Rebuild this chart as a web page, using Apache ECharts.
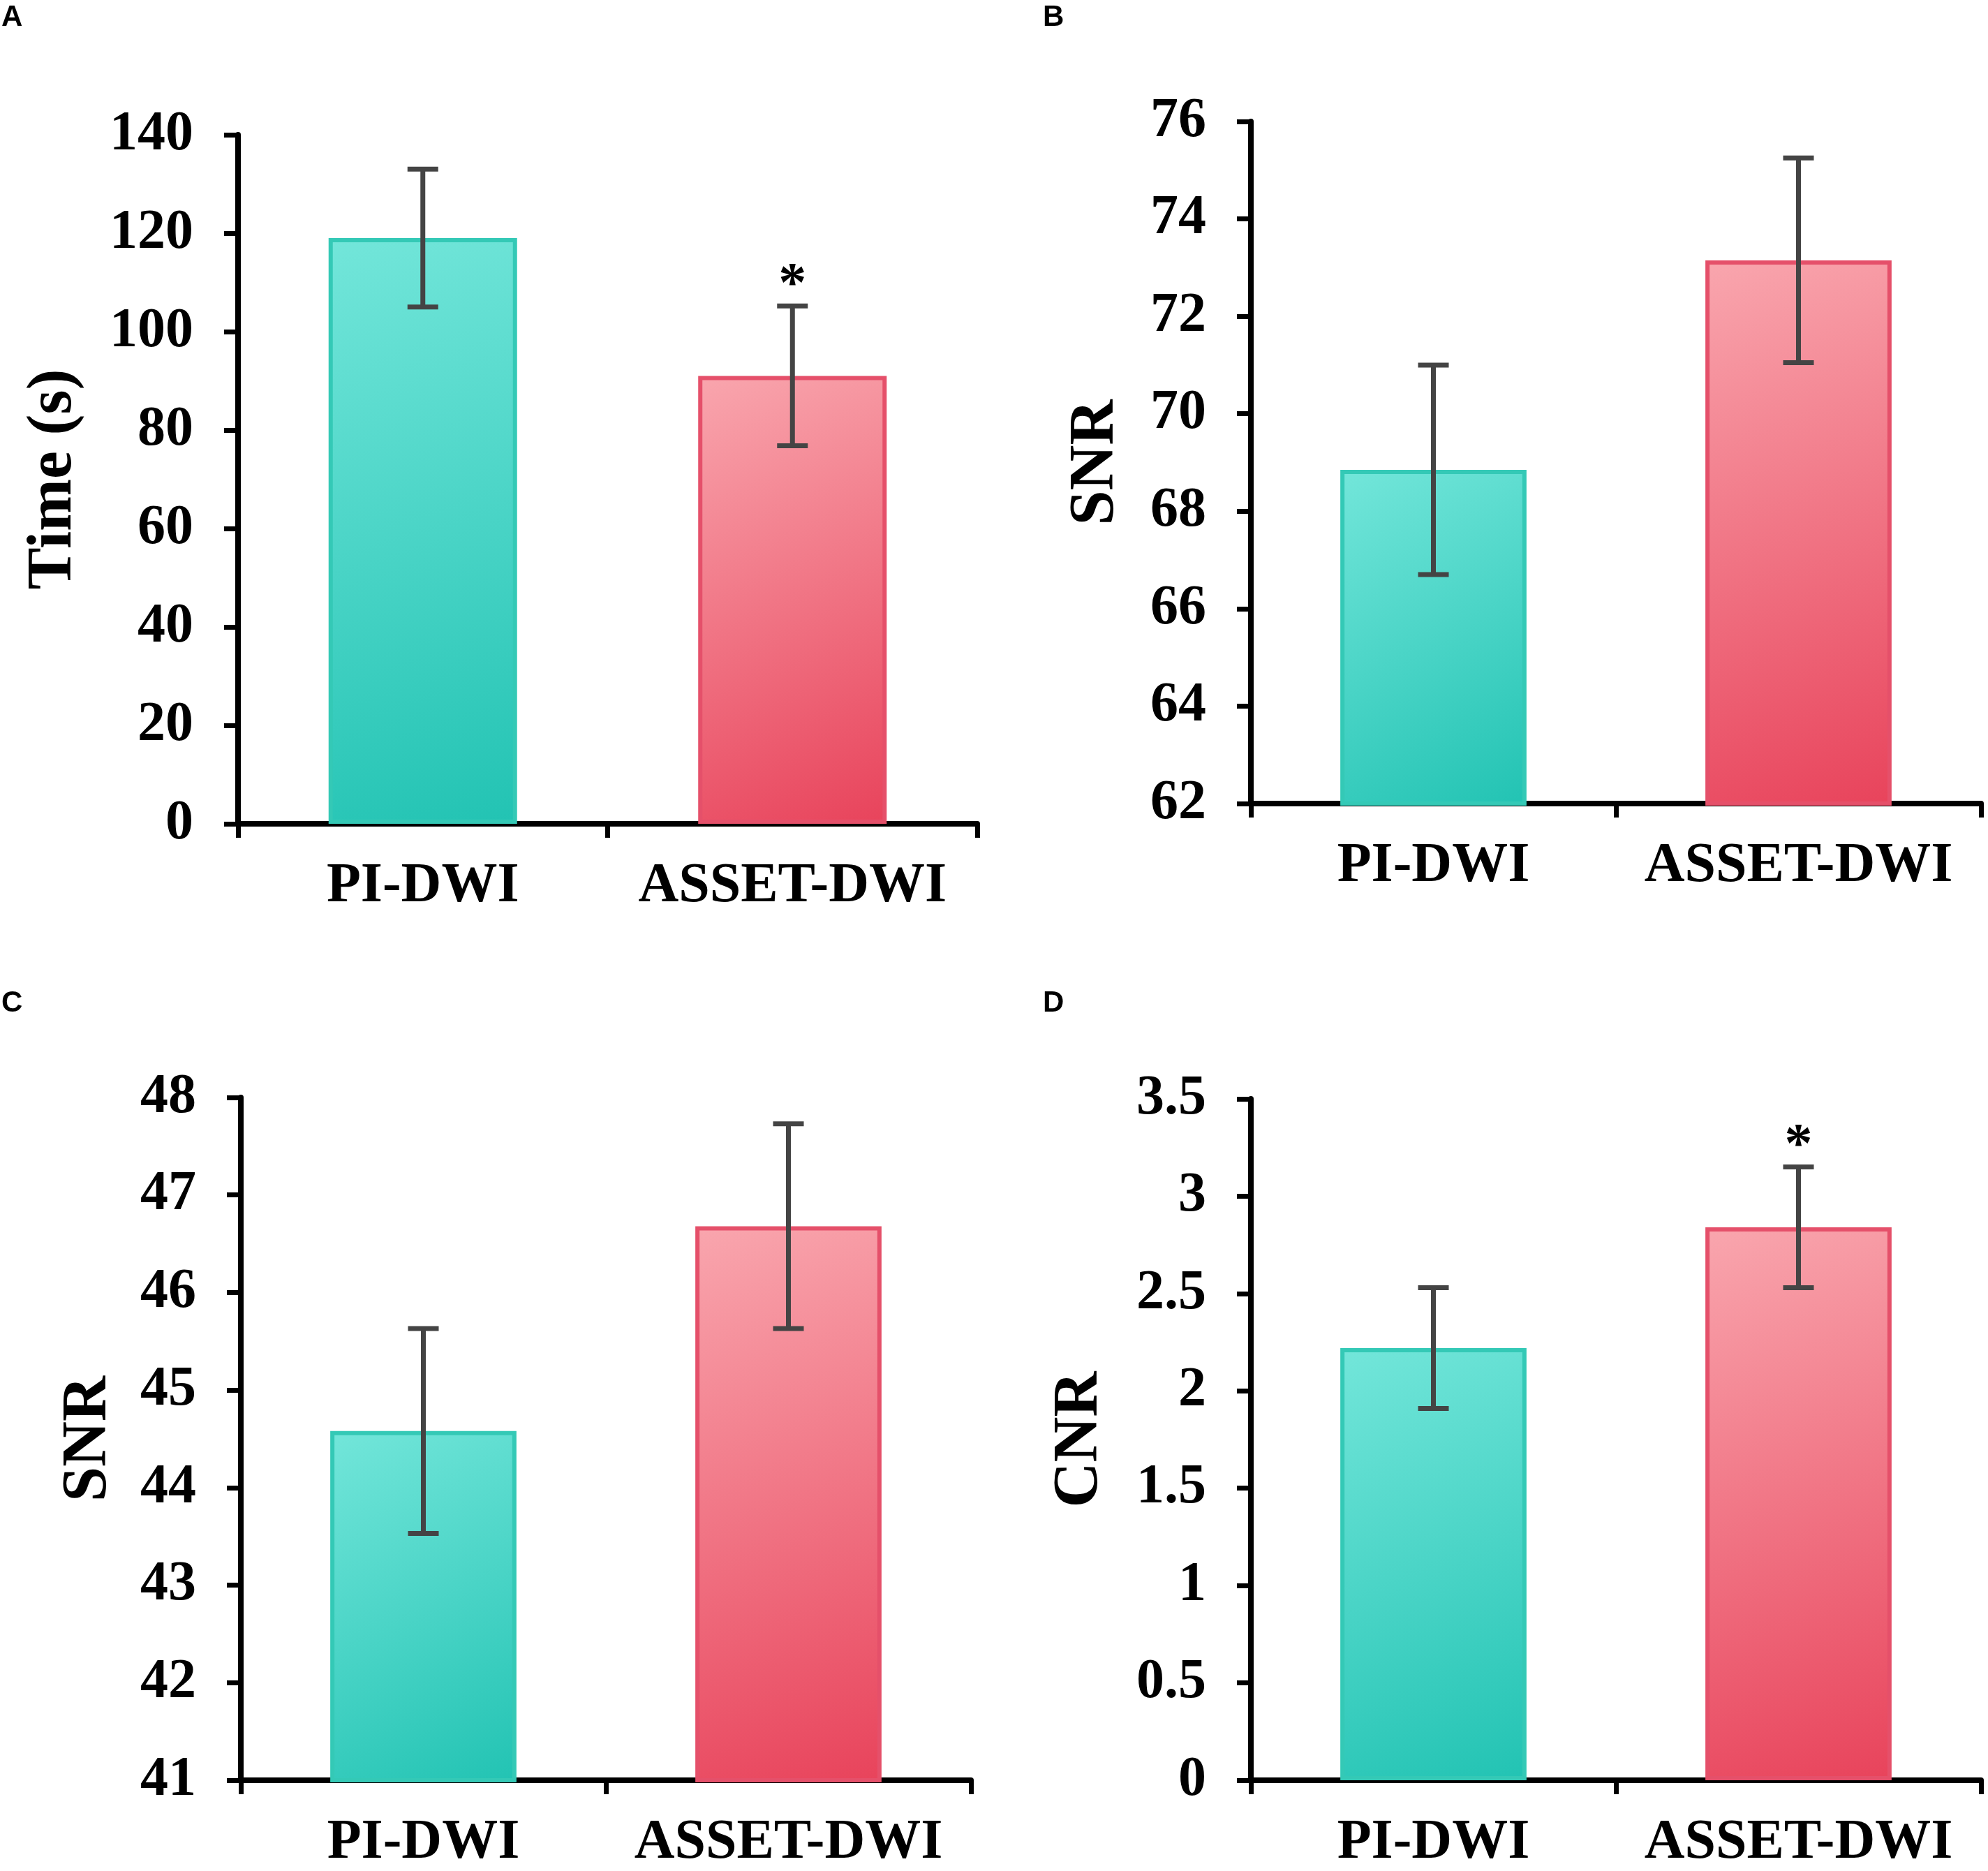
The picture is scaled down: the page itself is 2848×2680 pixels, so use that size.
<!DOCTYPE html>
<html>
<head>
<meta charset="utf-8">
<title>PI-DWI vs ASSET-DWI</title>
<script src="https://cdn.jsdelivr.net/npm/echarts@6/dist/echarts.min.js"></script>
<style>
  html, body { margin: 0; padding: 0; background: #fff; }
  #main { width: 2848px; height: 2680px; }
</style>
</head>
<body>
<div id="main"></div>
<script>
// categories shared by all four panels
const categories = ['PI-DWI', 'ASSET-DWI'];

// A: scan time
const timeMean = [119, 91];
const timeErr = [14, 14.2];
const timeSig = [0, 1];

// B: SNR
const snrBMean = [68.85, 73.15];
const snrBErr = [2.15, 2.1];
const snrBSig = [0, 0];

// C: SNR
const snrCMean = [44.58, 46.68];
const snrCErr = [1.05, 1.05];
const snrCSig = [0, 0];

// D: CNR
const cnrMean = [2.22, 2.84];
const cnrErr = [0.31, 0.31];
const cnrSig = [0, 1];

// y axis ranges / tick steps
const axisA = { name: 'Time (s)', min: 0, max: 140, interval: 20 };
const axisB = { name: 'SNR', min: 62, max: 76, interval: 2 };
const axisC = { name: 'SNR', min: 41, max: 48, interval: 1 };
const axisD = { name: 'CNR', min: 0, max: 3.5, interval: 0.5 };

const serif = 'Liberation Serif';

const barColors = [
  { fill: ['#73e6da', '#22c3b3'], border: '#34c9b6' },
  { fill: ['#f9a6ae', '#e8435b'], border: '#e5506a' }
];

function gradient(c) {
  return {
    type: 'linear', x: 0, y: 0, x2: 1, y2: 1,
    colorStops: [{ offset: 0, color: c[0] }, { offset: 1, color: c[1] }]
  };
}

let grids = [], xAxes = [], yAxes = [], series = [];

function addPanel(idx, box, axis, nameGap, mean, err, sig) {
  grids.push(box);
  xAxes.push({
    type: 'category',
    gridIndex: idx,
    data: categories,
    axisLine: { show: true, lineStyle: { color: '#000', width: 8 } },
    axisTick: { show: true, interval: 0, length: 20, lineStyle: { color: '#000', width: 7 } },
    axisLabel: {
      show: true, interval: 0, hideOverlap: false,
      color: '#000', fontFamily: serif, fontWeight: 'bold', fontSize: 80, margin: 50
    }
  });
  yAxes.push({
    type: 'value',
    gridIndex: idx,
    min: axis.min, max: axis.max, interval: axis.interval,
    name: axis.name,
    nameLocation: 'middle',
    nameGap: nameGap,
    nameTextStyle: { color: '#000', fontFamily: serif, fontWeight: 'bold', fontSize: 90 },
    splitLine: { show: false },
    axisLine: { show: true, lineStyle: { color: '#000', width: 8 } },
    axisTick: { show: true, length: 20, lineStyle: { color: '#000', width: 7 } },
    axisLabel: {
      color: '#000', fontFamily: serif, fontWeight: 'bold', fontSize: 80, margin: 64
    }
  });
  series.push({
    type: 'bar',
    xAxisIndex: idx, yAxisIndex: idx,
    barWidth: '51%',
    data: mean.map((v, i) => ({
      value: v,
      itemStyle: {
        color: gradient(barColors[i].fill),
        borderColor: barColors[i].border,
        borderWidth: 6
      }
    }))
  });
  // error bars + significance star
  series.push({
    type: 'custom',
    xAxisIndex: idx, yAxisIndex: idx,
    z: 5,
    clip: false,
    encode: { x: 0, y: 1 },
    data: mean.map((v, i) => [i, v, err[i], sig[i]]),
    renderItem: function (params, api) {
      const x = api.value(0), m = api.value(1), e = api.value(2);
      const hi = api.coord([x, m + e]);
      const lo = api.coord([x, m - e]);
      const w = 22;
      const st = { stroke: '#444', lineWidth: 7 };
      const kids = [
        { type: 'line', shape: { x1: hi[0], y1: hi[1], x2: lo[0], y2: lo[1] }, style: st },
        { type: 'line', shape: { x1: hi[0] - w, y1: hi[1], x2: hi[0] + w, y2: hi[1] }, style: st },
        { type: 'line', shape: { x1: lo[0] - w, y1: lo[1], x2: lo[0] + w, y2: lo[1] }, style: st }
      ];
      if (api.value(3)) {
        kids.push({
          type: 'text',
          style: {
            text: '*', x: hi[0], y: hi[1] - 28,
            align: 'center', verticalAlign: 'middle',
            font: 'bold 80px "Liberation Serif"', fill: '#000'
          }
        });
      }
      return { type: 'group', children: kids };
    }
  });
}

addPanel(0, { left: 341, top: 193, width: 1059, height: 987 }, axisA, 218, timeMean, timeErr, timeSig);
addPanel(1, { left: 1792, top: 174, width: 1046, height: 977 }, axisB, 176, snrBMean, snrBErr, snrBSig);
addPanel(2, { left: 345, top: 1572, width: 1046, height: 979 }, axisC, 172, snrCMean, snrCErr, snrCSig);
addPanel(3, { left: 1792, top: 1574, width: 1046, height: 977 }, axisD, 199, cnrMean, cnrErr, cnrSig);

// panel letters
const letters = [['A', 2, 4], ['B', 1494, 4], ['C', 2, 1416], ['D', 1494, 1416]];

const chart = echarts.init(document.getElementById('main'));
chart.setOption({
  animation: false,
  backgroundColor: '#fff',
  grid: grids,
  xAxis: xAxes,
  yAxis: yAxes,
  series: series,
  graphic: letters.map(l => ({
    type: 'text',
    left: l[1], top: l[2],
    style: { text: l[0], font: 'bold 42px "Liberation Sans"', fill: '#000' }
  }))
});
</script>
</body>
</html>
